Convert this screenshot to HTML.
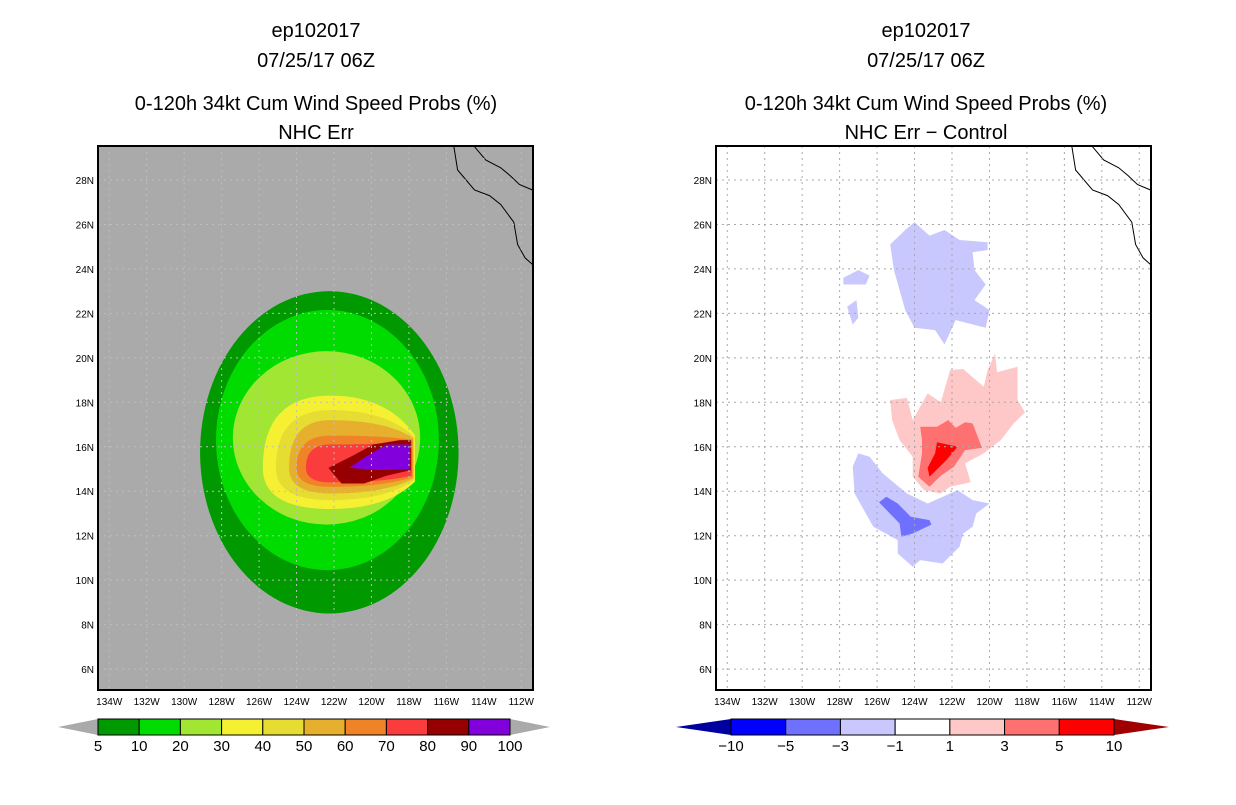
<!DOCTYPE html>
<html><head><meta charset="utf-8">
<style>
body{margin:0;background:#fff;width:1236px;height:800px;overflow:hidden;font-family:"Liberation Sans",sans-serif}
svg text{font-family:"Liberation Sans",sans-serif}
</style></head>
<body>
<svg id="s" width="1236" height="800" xmlns="http://www.w3.org/2000/svg">
<g font-size="20" text-anchor="middle" fill="#000">
<text x="316" y="37">ep102017</text><text x="316" y="67">07/25/17 06Z</text>
<text x="316" y="110">0-120h 34kt Cum Wind Speed Probs (%)</text><text x="316" y="139">NHC Err</text></g>
<g font-size="20" text-anchor="middle" fill="#000">
<text x="926" y="37">ep102017</text><text x="926" y="67">07/25/17 06Z</text>
<text x="926" y="110">0-120h 34kt Cum Wind Speed Probs (%)</text><text x="926" y="139">NHC Err − Control</text></g>
</svg>
<script>
// ---- data ----
const lonTicks=[-134,-132,-130,-128,-126,-124,-122,-120,-118,-116,-114,-112];
const latTicks=[6,8,10,12,14,16,18,20,22,24,26,28];
const probEllipseLevels=[5,10,20];
const probEllipses=[[-122.25,15.75,6.9,7.25],[-122.35,16.3,5.95,5.85],[-122.4,16.4,5.0,3.9]];
const probColors=["#009900","#00dc00","#a0e632","#f5f032","#e6dc32","#e6af2d","#f08228","#fa3c3c","#960000","#8200dc"];
const dropLevels=[30,40,50,60,70];
const dropLeft=[-125.8,-125.1,-124.4,-124.0,-123.5];
const dropTop=[18.3,17.65,17.2,16.5,16.1];
const dropBottom=[13.2,13.6,13.9,14.2,14.4];
const tipLon=-117.85, tipTopLat=16.25, tipBotLat=14.7, dropMidLat=15.05;
const darkRed=[[-122.3,15.05],[-121,15.6],[-119.9,16.1],[-118.5,16.3],[-117.9,16.3],[-117.9,14.95],[-119.2,14.7],[-120.4,14.35],[-121.6,14.35]];
const purple=[[-121.2,15.05],[-120.3,15.55],[-119.2,16.1],[-117.95,16.1],[-117.95,15.0],[-119.5,14.95]];
const diffTopBlue=[[-125.3,25.1],[-124.5,25.75],[-124.0,26.1],[-123.2,25.5],[-122.4,25.75],[-121.6,25.3],[-120.1,25.2],[-120.1,24.85],[-120.9,24.75],[-120.8,23.95],[-120.2,23.3],[-120.8,22.6],[-120.0,22.15],[-120.2,21.35],[-121.8,21.7],[-122.4,20.6],[-122.9,21.25],[-124.0,21.35],[-124.5,22.15],[-124.8,23.05],[-125.1,23.95]];
const diffSmallBlue1=[[-127.8,23.6],[-127.0,23.95],[-126.4,23.7],[-126.6,23.3],[-127.8,23.3]];
const diffSmallBlue2=[[-127.6,22.3],[-127.1,22.6],[-127.0,21.8],[-127.3,21.5]];
const diffPink=[[-125.3,18.1],[-124.4,18.2],[-124.1,17.2],[-123.3,18.4],[-122.6,18.0],[-122.1,19.45],[-121.4,19.5],[-120.3,18.7],[-120.1,19.45],[-119.7,20.2],[-119.6,19.35],[-118.5,19.6],[-118.5,18.1],[-118.1,17.55],[-118.7,17.05],[-119.4,16.3],[-120.3,15.7],[-121.3,15.25],[-121.0,14.4],[-122.1,14.2],[-122.6,13.9],[-123.5,14.05],[-124.1,14.65],[-124.1,15.55],[-124.8,16.3],[-125.2,17.2]];
const diffSalmon=[[-123.7,16.9],[-122.8,16.9],[-122.2,17.2],[-121.8,16.85],[-121.3,17.1],[-120.9,17.05],[-120.4,15.95],[-121.3,15.85],[-121.9,15.1],[-122.6,14.7],[-123.2,14.2],[-123.8,14.65],[-123.6,15.7],[-123.6,16.3]];
const diffRed=[[-122.8,16.2],[-121.7,16.0],[-122.3,15.4],[-123.2,14.65],[-123.3,15.05],[-122.9,15.7]];
const diffLowBlue=[[-127.0,15.7],[-126.4,15.55],[-125.7,14.8],[-124.4,13.9],[-123.3,13.45],[-121.7,14.05],[-120.9,13.6],[-120.0,13.45],[-120.7,13.0],[-120.9,12.4],[-121.4,12.1],[-121.6,11.5],[-122.5,10.75],[-123.7,10.9],[-124.1,10.6],[-124.9,11.2],[-124.9,11.8],[-126.2,12.4],[-127.2,13.9],[-127.3,15.1]];
const diffMidBlue=[[-125.9,13.5],[-125.5,13.75],[-124.9,13.45],[-124.2,12.85],[-123.2,12.7],[-123.1,12.5],[-124.1,12.1],[-124.7,11.95],[-124.8,12.55]];
const coast1=[[-115.6,29.5],[-115.4,28.45],[-114.5,27.55],[-113.7,27.3],[-113.1,26.9],[-112.4,26.1],[-112.2,25.1],[-111.8,24.5],[-111.4,24.2]];
const coast2=[[-114.5,29.5],[-113.9,28.9],[-113.1,28.55],[-112.6,28.2],[-112.1,27.8],[-111.4,27.55]];
const probBarLabels=["5","10","20","30","40","50","60","70","80","90","100"];
const diffBarLabels=["−10","−5","−3","−1","1","3","5","10"];
const diffBarColors=["#0000ff","#7070ff","#c8c8ff","#ffffff","#ffc8c8","#ff7070","#ff0000"];

const NS="http://www.w3.org/2000/svg";
const svg=document.getElementById('s');
function mk(tag,attrs,parent){const e=document.createElementNS(NS,tag);for(const k in attrs)e.setAttribute(k,attrs[k]);(parent||svg).appendChild(e);return e;}
const MAP_Y0=146, MAP_H=544, MAP_W=435;
function xs(x0,lon){return x0+(lon+134.6)*18.73;}
function ys(lat){return MAP_Y0+(29.53-lat)*22.23;}
function polyPts(x0,arr){return arr.map(p=>xs(x0,p[0]).toFixed(1)+","+ys(p[1]).toFixed(1)).join(" ");}

function panel(x0,bg,name){
  const g=mk('g',{});
  
  
  const cp=mk('clipPath',{id:'c'+x0},g);
  mk('rect',{x:x0,y:MAP_Y0,width:MAP_W,height:MAP_H},cp);
  const bgR=mk('rect',{x:x0,y:MAP_Y0,width:MAP_W,height:MAP_H,fill:bg},g);
  
  
  const inner=mk('g',{'clip-path':'url(#c'+x0+')'},g);
  return {g,inner};
}
function grid(x0,p,col){
  const gg=mk('g',{},p.g);
  
  
  lonTicks.forEach(l=>{const x=xs(x0,l);mk('line',{x1:x,x2:x,y1:MAP_Y0,y2:MAP_Y0+MAP_H,stroke:col,'stroke-dasharray':'2,4','stroke-width':1},gg);});
  latTicks.forEach(l=>{const y=ys(l);mk('line',{x1:x0,x2:x0+MAP_W,y1:y,y2:y,stroke:col,'stroke-dasharray':'2,4','stroke-width':1},gg);});
  [coast1,coast2].forEach(c=>{const pl=mk('polyline',{points:polyPts(x0,c),fill:'none',stroke:'#000','stroke-width':1},p.inner);
    
    });
  const fr=mk('rect',{x:x0,y:MAP_Y0,width:MAP_W,height:MAP_H,fill:'none',stroke:'#000','stroke-width':2},p.g);
  
  
  const ax=mk('g',{'font-size':'10',fill:'#000'},p.g);
  
  
  lonTicks.forEach(l=>{const t=mk('text',{x:xs(x0,l),y:705,'text-anchor':'middle'},ax);t.textContent=(-l)+"W";});
  latTicks.forEach(l=>{const t=mk('text',{x:x0-4,y:ys(l)+4,'text-anchor':'end'},ax);t.textContent=l+"N";});
}

const L=98, P1=panel(L,'#aaaaaa','left-map-panel');
probEllipses.forEach((e,i)=>{const el=mk('ellipse',{cx:xs(L,e[0]),cy:ys(e[1]),rx:e[2]*18.73,ry:e[3]*22.23,fill:probColors[i]},P1.inner);
  
  });
dropLevels.forEach((lv,i)=>{
  const lx=xs(L,dropLeft[i]),my=ys(dropMidLat),ty=ys(dropTop[i]),by=ys(dropBottom[i]);
  const cx=xs(L,-122.2),tx=xs(L,tipLon)+(4-i)*0.8,tt=ys(tipTopLat)-(4-i)*1.5,tb=ys(tipBotLat)+(4-i)*1.5;
  const d=`M${lx},${my} Q${lx},${ty} ${cx},${ty} Q${tx-28},${ty} ${tx},${tt} L${tx},${tb} Q${tx-28},${by} ${cx},${by} Q${lx},${by} ${lx},${my} Z`;
  const p=mk('path',{d:d,fill:probColors[3+i]},P1.inner);
  
  
});
[[darkRed,8,'contour-80'],[purple,9,'contour-90']].forEach(a=>{const p=mk('polygon',{points:polyPts(L,a[0]),fill:probColors[a[1]]},P1.inner);
  
  });
grid(L,P1,'#bdbdbd');

const R=716, P2=panel(R,'#ffffff','right-map-panel');
[[diffTopBlue,'#c8c8ff','diff-neg-north'],[diffSmallBlue1,'#c8c8ff','diff-neg-small-1'],[diffSmallBlue2,'#c8c8ff','diff-neg-small-2'],
 [diffLowBlue,'#c8c8ff','diff-neg-south'],[diffMidBlue,'#7070ff','diff-neg-core'],
 [diffPink,'#ffc8c8','diff-pos-light'],[diffSalmon,'#ff7070','diff-pos-mid'],[diffRed,'#ff0000','diff-pos-core']].forEach(a=>{
  const p=mk('polygon',{points:polyPts(R,a[0]),fill:a[1]},P2.inner);
  
  });
grid(R,P2,'#a8a8a8');

function colorbar(x0,x1,labels,colors,lcol,rcol,name,tri){
  const g=mk('g',{});
  
  
  const y0=719,y1=735,ym=727,n=colors.length,w=(x1-x0)/n;
  mk('polygon',{points:`${x0-tri},${ym} ${x0},${y0} ${x0},${y1}`,fill:lcol},g);
  mk('polygon',{points:`${x1+tri},${ym} ${x1},${y0} ${x1},${y1}`,fill:rcol},g);
  colors.forEach((c,i)=>{mk('rect',{x:x0+i*w,y:y0,width:w,height:y1-y0,fill:c,stroke:'#000','stroke-width':1},g);});
  labels.forEach((t,i)=>{const e=mk('text',{x:x0+i*w,y:751,'text-anchor':'middle','font-size':'15',fill:'#000'},g);e.textContent=t;});
}
colorbar(98,510,probBarLabels,probColors,'#aaaaaa','#aaaaaa','prob-colorbar',40);
colorbar(731,1114,diffBarLabels,diffBarColors,'#0000a0','#a00000','diff-colorbar',55);
</script>
</body></html>
